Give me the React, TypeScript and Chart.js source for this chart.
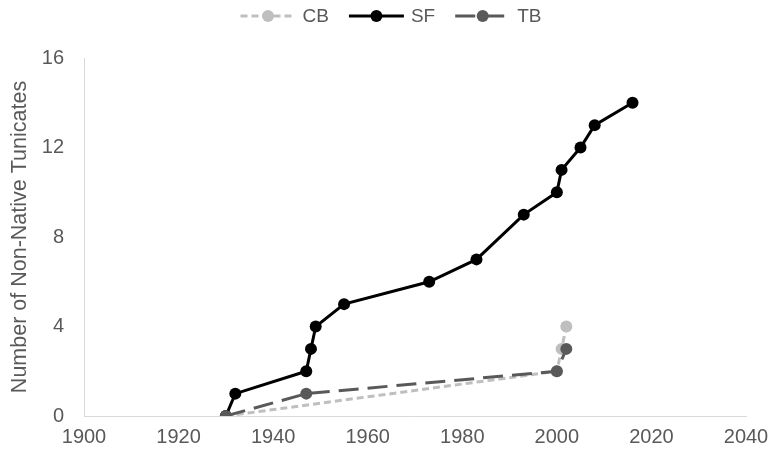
import React, { useEffect, useRef } from "react";
import { Chart, registerables } from "chart.js";

Chart.register(...registerables);

// ---- data ----
const cbYears = [1930, 2000, 2001, 2002];
const cbValues = [0, 2, 3, 4];

const sfYears = [1930, 1932, 1947, 1948, 1949, 1955, 1973, 1983, 1993, 2000, 2001, 2005, 2008, 2016];
const sfValues = [0, 1, 2, 3, 4, 5, 6, 7, 9, 10, 11, 12, 13, 14];

const tbYears = [1930, 1947, 2000, 2002];
const tbValues = [0, 1, 2, 3];

const seriesNames = ["CB", "SF", "TB"];
const xMin = 1900;
const xMax = 2040;
const xStep = 20;
const yMin = 0;
const yMax = 16;
const yStep = 4;
const yTitle = "Number of Non-Native Tunicates";

const FONT = "'Liberation Sans', Arial, sans-serif";
const TEXT = "#595959";

function pts(xs: number[], ys: number[]) {
  return xs.map((x, i) => ({ x, y: ys[i] }));
}

export default function App() {
  const ref = useRef<HTMLCanvasElement>(null);

  useEffect(() => {
    if (!ref.current) return;
    const legendPlugin = {
      id: "lineLegend",
      afterDraw(chart: any) {
        const ctx = chart.ctx as CanvasRenderingContext2D;
        const ds = chart.data.datasets as any[];
        const order = [0, 1, 2];
        const sampleW = 55;
        const gapText = 7;
        const itemGap = 20;
        ctx.save();
        ctx.font = `19px ${FONT}`;
        const widths = order.map((i) => sampleW + gapText + ctx.measureText(ds[i].label).width);
        const total = widths.reduce((a, b) => a + b, 0) + itemGap * (order.length - 1);
        let x = 391 - total / 2;
        const y = 16;
        order.forEach((i, k) => {
          const d = ds[i];
          ctx.strokeStyle = d.borderColor;
          ctx.lineWidth = d.borderWidth;
          ctx.setLineDash(d.borderDash || []);
          ctx.beginPath();
          ctx.moveTo(x, y);
          ctx.lineTo(x + sampleW, y);
          ctx.stroke();
          ctx.setLineDash([]);
          ctx.fillStyle = d.pointBackgroundColor;
          ctx.beginPath();
          ctx.arc(x + sampleW / 2, y, d.pointRadius, 0, Math.PI * 2);
          ctx.fill();
          ctx.fillStyle = TEXT;
          ctx.textBaseline = "middle";
          ctx.textAlign = "left";
          ctx.fillText(d.label, x + sampleW + gapText, y + 1);
          x += widths[k] + itemGap;
        });
        ctx.restore();
      },
    };

    const chart = new Chart(ref.current, {
      type: "scatter",
      data: {
        datasets: [
          {
            label: seriesNames[0],
            data: pts(cbYears, cbValues),
            showLine: true,
            borderColor: "#bfbfbf",
            backgroundColor: "#bfbfbf",
            pointBackgroundColor: "#bfbfbf",
            pointBorderColor: "#bfbfbf",
            borderWidth: 3,
            borderDash: [7, 4],
            pointRadius: 6,
            pointBorderWidth: 0,
            order: 2,
          } as any,
          {
            label: seriesNames[1],
            data: pts(sfYears, sfValues),
            showLine: true,
            borderColor: "#000000",
            backgroundColor: "#000000",
            pointBackgroundColor: "#000000",
            pointBorderColor: "#000000",
            borderWidth: 3,
            borderDash: [],
            pointRadius: 6,
            pointBorderWidth: 0,
            order: 1,
          },
          {
            label: seriesNames[2],
            data: pts(tbYears, tbValues),
            showLine: true,
            borderColor: "#595959",
            backgroundColor: "#595959",
            pointBackgroundColor: "#595959",
            pointBorderColor: "#595959",
            borderWidth: 3,
            borderDash: [20, 9],
            pointRadius: 6,
            pointBorderWidth: 0,
            order: 0,
          },
        ],
      },
      options: {
        responsive: false,
        animation: false,
        layout: { padding: { top: 58, right: 24, left: 0, bottom: 0 } },
        plugins: {
          legend: { display: false },
          tooltip: { enabled: false },
        },
        scales: {
          x: {
            type: "linear",
            min: xMin,
            max: xMax,
            ticks: {
              stepSize: xStep,
              color: TEXT,
              font: { family: FONT, size: 20 },
              padding: 9,
              callback: (v: any) => String(v),
            },
            grid: { display: false, drawTicks: false },
            border: { display: true, color: "#d9d9d9", width: 1 },
            afterFit: (s: any) => {
              s.height = 38;
              s.paddingLeft = 0;
              s.paddingRight = 0;
            },
          },
          y: {
            type: "linear",
            min: yMin,
            max: yMax,
            ticks: {
              stepSize: yStep,
              color: TEXT,
              font: { family: FONT, size: 20 },
              padding: 20,
            },
            grid: { display: false, drawTicks: false },
            border: { display: true, color: "#d9d9d9", width: 1 },
            title: {
              display: true,
              text: yTitle,
              color: TEXT,
              font: { family: FONT, size: 21.5, weight: "normal" },
              padding: { top: 7, bottom: 0 },
            },
            afterFit: (s: any) => {
              s.width = 84;
              s.paddingTop = 0;
              s.paddingBottom = 0;
            },
          },
        },
      },
      plugins: [legendPlugin],
    });
    return () => chart.destroy();
  }, []);

  return (
    <div style={{ position: "fixed", left: 0, top: 0, width: 770, height: 454, background: "#ffffff" }}>
      <canvas ref={ref} width={770} height={454} style={{ width: 770, height: 454, display: "block" }} />
    </div>
  );
}
